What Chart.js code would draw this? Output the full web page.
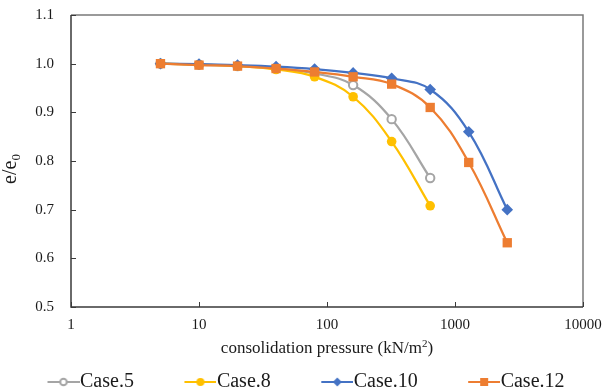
<!DOCTYPE html>
<html>
<head>
<meta charset="utf-8">
<script src="https://cdn.jsdelivr.net/npm/chart.js@4.4.0/dist/chart.umd.min.js"></script>
<style>
  html, body { margin: 0; padding: 0; background: #fff; }
  #chart { display: block; }
</style>
</head>
<body>
<canvas id="chart" width="605" height="392"></canvas>
<script>
// values (pressure in kN/m2, e/e0)
const pressure = [5, 10, 20, 40, 80, 160, 320, 640, 1280, 2560];
const case5 = [1.000, 0.998, 0.995, 0.990, 0.980, 0.956, 0.886, 0.765];
const case8 = [1.000, 0.998, 0.995, 0.988, 0.973, 0.932, 0.840, 0.708];
const case10 = [1.000, 0.999, 0.997, 0.994, 0.989, 0.981, 0.970, 0.947, 0.860, 0.700];
const case12 = [1.000, 0.997, 0.995, 0.990, 0.983, 0.973, 0.958, 0.910, 0.797, 0.632];

const seriesNames = ["Case.5", "Case.8", "Case.10", "Case.12"];
const xTickValues = [1, 10, 100, 1000, 10000];
const yMin = 0.5, yMax = 1.1, yStep = 0.1;

const SERIF = "'Liberation Serif', 'Times New Roman', serif";
const TEXT = "#1a1a1a";

function toPoints(vals) {
  return vals.map((v, i) => ({ x: pressure[i], y: v }));
}

// little line + marker pictures for the legend
function legendIcon(color, marker) {
  const c = document.createElement("canvas");
  c.width = 84;
  c.height = 14;
  const g = c.getContext("2d");
  const cx = c.width - 16, cy = 7;
  g.strokeStyle = color;
  g.fillStyle = color;
  g.lineWidth = 2;
  g.beginPath();
  g.moveTo(c.width - 32, cy);
  g.lineTo(c.width, cy);
  g.stroke();
  g.beginPath();
  if (marker === "open") {
    g.arc(cx, cy, 3.3, 0, Math.PI * 2);
    g.fillStyle = "#fff";
    g.fill();
    g.stroke();
  } else if (marker === "dot") {
    g.arc(cx, cy, 4, 0, Math.PI * 2);
    g.fill();
  } else if (marker === "diamond") {
    g.moveTo(cx, cy - 4.5);
    g.lineTo(cx + 4.5, cy);
    g.lineTo(cx, cy + 4.5);
    g.lineTo(cx - 4.5, cy);
    g.closePath();
    g.fill();
  } else {
    g.rect(cx - 4, cy - 4, 8, 8);
    g.fill();
  }
  return c;
}

const colors = ["#A5A5A5", "#FFC000", "#4472C4", "#ED7D31"];
const icons = [
  legendIcon(colors[0], "open"),
  legendIcon(colors[1], "dot"),
  legendIcon(colors[2], "diamond"),
  legendIcon(colors[3], "square"),
];

// frame, inner tick marks and the two axis titles
const framePlugin = {
  id: "frame",
  beforeDatasetsDraw(chart) {
    const { ctx, chartArea: a, scales } = chart;
    ctx.save();
    ctx.lineWidth = 1.5;
    ctx.strokeStyle = "#7a7a7a";
    ctx.beginPath();
    ctx.moveTo(a.left, a.top);
    ctx.lineTo(a.right, a.top);
    ctx.lineTo(a.right, a.bottom);
    ctx.stroke();
    ctx.strokeStyle = "#3a3a3a";
    ctx.beginPath();
    ctx.moveTo(a.left, a.top);
    ctx.lineTo(a.left, a.bottom);
    ctx.lineTo(a.right, a.bottom);
    ctx.stroke();

    ctx.lineWidth = 1;
    ctx.beginPath();
    scales.y.ticks.forEach(t => {
      const py = Math.round(scales.y.getPixelForValue(t.value)) + 0.5;
      ctx.moveTo(a.left, py);
      ctx.lineTo(a.left + 5, py);
    });
    scales.x.ticks.forEach(t => {
      const px = Math.round(scales.x.getPixelForValue(t.value)) + 0.5;
      ctx.moveTo(px, a.bottom);
      ctx.lineTo(px, a.bottom - 5);
    });
    ctx.stroke();
    ctx.restore();
  },
  afterDraw(chart) {
    const { ctx, chartArea: a } = chart;
    ctx.save();
    ctx.fillStyle = TEXT;
    ctx.textBaseline = "alphabetic";
    ctx.textAlign = "left";

    // x title with superscript 2
    const main = "consolidation pressure (kN/m";
    ctx.font = "17px " + SERIF;
    const w1 = ctx.measureText(main).width;
    const w3 = ctx.measureText(")").width;
    ctx.font = "11px " + SERIF;
    const w2 = ctx.measureText("2").width;
    let x0 = (a.left + a.right) / 2 - (w1 + w2 + w3) / 2;
    const by = 353;
    ctx.font = "17px " + SERIF;
    ctx.fillText(main, x0, by);
    ctx.font = "11px " + SERIF;
    ctx.fillText("2", x0 + w1, by - 6);
    ctx.font = "17px " + SERIF;
    ctx.fillText(")", x0 + w1 + w2, by);

    // y title e/e0
    ctx.translate(16, 169);
    ctx.rotate(-Math.PI / 2);
    ctx.font = "20px " + SERIF;
    const t1 = ctx.measureText("e/e").width;
    ctx.font = "13px " + SERIF;
    const t2 = ctx.measureText("0").width;
    const sx = -(t1 + t2) / 2;
    ctx.font = "20px " + SERIF;
    ctx.fillText("e/e", sx, 0);
    ctx.font = "13px " + SERIF;
    ctx.fillText("0", sx + t1, 4);
    ctx.restore();
  }
};

const datasets = [
  {
    label: seriesNames[0],
    data: toPoints(case5),
    borderColor: colors[0],
    backgroundColor: "#ffffff",
    pointStyle: "circle",
    pointRadius: 4.2,
    pointBorderWidth: 2,
    order: 3,
  },
  {
    label: seriesNames[1],
    data: toPoints(case8),
    borderColor: colors[1],
    backgroundColor: colors[1],
    pointStyle: "circle",
    pointRadius: 4.8,
    pointBorderWidth: 0,
    order: 2,
  },
  {
    label: seriesNames[2],
    data: toPoints(case10),
    borderColor: colors[2],
    backgroundColor: colors[2],
    pointStyle: "rectRot",
    pointRadius: 5.8,
    pointBorderWidth: 0,
    order: 1,
  },
  {
    label: seriesNames[3],
    data: toPoints(case12),
    borderColor: colors[3],
    backgroundColor: colors[3],
    pointStyle: "rect",
    pointRadius: 6.6,
    pointBorderWidth: 0,
    order: 0,
  },
];

datasets.forEach(d => {
  d.borderWidth = 2.25;
  d.tension = 0.4;
  d.fill = false;
  d.pointBackgroundColor = d.backgroundColor;
  d.pointBorderColor = d.borderColor;
});

new Chart(document.getElementById("chart"), {
  type: "line",
  data: { datasets },
  options: {
    responsive: false,
    animation: false,
    devicePixelRatio: 1,
    layout: { padding: { top: 15, right: 22, bottom: -10, left: -3 } },
    plugins: {
      tooltip: { enabled: false },
      legend: {
        position: "bottom",
        align: "start",
        labels: {
          usePointStyle: true,
          pointStyleWidth: 65,
          padding: 8,
          color: TEXT,
          font: { family: SERIF, size: 20 },
          sort: (a, b) => a.datasetIndex - b.datasetIndex,
          generateLabels(chart) {
            const items = Chart.defaults.plugins.legend.labels.generateLabels(chart);
            items.forEach(it => { it.pointStyle = icons[it.datasetIndex]; });
            return items;
          },
        },
      },
    },
    scales: {
      x: {
        type: "logarithmic",
        min: 1,
        max: 10000,
        afterBuildTicks: s => { s.ticks = xTickValues.map(v => ({ value: v })); },
        afterFit: s => {
          s.height = 57;
          s.paddingLeft = 0;
          s.paddingRight = 0;
        },
        grid: { display: false, drawTicks: false },
        border: { display: false },
        ticks: {
          padding: 9,
          color: TEXT,
          font: { family: SERIF, size: 15 },
          maxRotation: 0,
          autoSkip: false,
          callback: v => String(v),
        },
      },
      y: {
        min: yMin,
        max: yMax,
        afterFit: s => {
          s.width = 74;
          s.paddingTop = 0;
          s.paddingBottom = 0;
        },
        grid: { display: false, drawTicks: false },
        border: { display: false },
        ticks: {
          stepSize: yStep,
          padding: 17,
          color: TEXT,
          font: { family: SERIF, size: 15 },
          callback: v => Number(v).toFixed(1),
        },
      },
    },
  },
  plugins: [framePlugin],
});
</script>
</body>
</html>
